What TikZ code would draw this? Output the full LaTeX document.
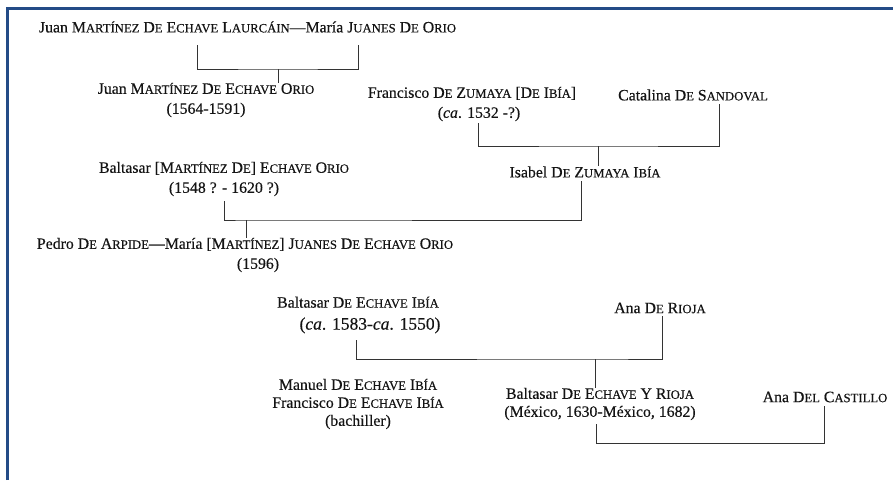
\documentclass[tikz,border=0pt]{standalone}
\usepackage{fontspec}
\setmainfont{Liberation Serif}[FakeBold=0.35]
\newcommand\scsz{\fontsize{12.7}{14}\selectfont}
\def\scA#1#2\relax{#1{\scsz #2}}
\newcommand\N[1]{\scA#1\relax}
\definecolor{framecol}{RGB}{35,75,135}
\tikzset{
  txt/.style={inner sep=0pt, align=center, text=black!92, font=\fontsize{15.8}{20}\selectfont},
  link/.style={line width=0.8pt, draw=black!80},
  border/.style={line width=2.6pt, draw=framecol}
}
\begin{document}
\begin{tikzpicture}[x=1pt,y=-1pt]
\useasboundingbox (0,0) rectangle (893,480);
\fill[white] (0,0) rectangle (893,480);
\draw[border] (7.5,480) -- (7.5,8.5) -- (893,8.5);

\node[txt] (p1) at (247.5,27) {Juan \N{MARTÍNEZ} \N{DE} \N{ECHAVE} \N{LAURCÁIN}—María \N{JUANES} \N{DE} \N{ORIO}};
\node[txt] (p2) at (206,100) {Juan \N{MARTÍNEZ} \N{DE} \N{ECHAVE} \N{ORIO}\\(1564-1591)};
\node[txt] (p3) at (472,104) {Francisco \N{DE} \N{ZUMAYA} [\N{DE} \N{IBÍA}]\\\hspace*{14pt}(\textit{ca}. 1532 -?)};
\node[txt] (p4) at (693,95) {Catalina \N{DE} \N{SANDOVAL}};
\node[txt] (p5) at (585,172) {Isabel \N{DE} \N{ZUMAYA} \N{IBÍA}};
\node[txt] (p6) at (224,179) {Baltasar [\N{MARTÍNEZ} \N{DE}] \N{ECHAVE} \N{ORIO}\\(1548 ? - 1620 ?)};
\node[txt] (p7) at (245,255) {Pedro \N{DE} \N{ARPIDE}—María [\N{MARTÍNEZ}] \N{JUANES} \N{DE} \N{ECHAVE} \N{ORIO}\\\hspace*{26pt}(1596)};
\node[txt, font=\fontsize{15.8}{22}\selectfont] (p8) at (358,315) {Baltasar \N{DE} \N{ECHAVE} \N{IBÍA}\\\hspace*{24pt}{\fontsize{17.5}{22}\selectfont(\textit{ca}. 1583-\textit{ca}. 1550)}};
\node[txt] (p9) at (660,308) {Ana \N{DE} \N{RIOJA}};
\node[txt, font=\fontsize{15.8}{18}\selectfont] (p10) at (358,404) {Manuel \N{DE} \N{ECHAVE} \N{IBÍA}\\Francisco \N{DE} \N{ECHAVE} \N{IBÍA}\\(bachiller)};
\node[txt, font=\fontsize{15.8}{18}\selectfont] (p11) at (600,404) {Baltasar \N{DE} \N{ECHAVE} \N{Y} \N{RIOJA}\\(México, 1630-México, 1682)};
\node[txt] (p12) at (825,397) {Ana \N{DEL} \N{CASTILLO}};

% bracket 1
\coordinate (a1) at (197,45);
\coordinate (a2) at (358,45);
\coordinate (m1) at (278,69);
\draw[link] (a1) |- (m1) -| (a2);
\draw[link] (m1) -- (m1 |- p2.north);
% bracket 2
\coordinate (b1) at (478,123);
\coordinate (b2) at (719,104);
\coordinate (m2) at (598,146);
\draw[link] (b1) |- (m2) -| (b2);
\draw[link] (m2) -- (m2 |- p5.north);
% bracket 3
\coordinate (c1) at (224,201);
\coordinate (c2) at (581,181);
\coordinate (m3) at (246,220);
\draw[link] (c1) |- (m3) -| (c2);
\draw[link] (m3) -- (m3 |- p7.north);
% bracket 4
\coordinate (d1) at (356,340);
\coordinate (d2) at (662,316);
\coordinate (m4) at (595,359);
\draw[link] (d1) |- (m4) -| (d2);
\draw[link] (m4) -- (m4 |- p11.north);
% bracket 5
\coordinate (e1) at (596,424);
\coordinate (e2) at (824,406);
\coordinate (m5) at (710,443);
\draw[link] (e1) |- (m5) -| (e2);
\end{tikzpicture}
\end{document}
